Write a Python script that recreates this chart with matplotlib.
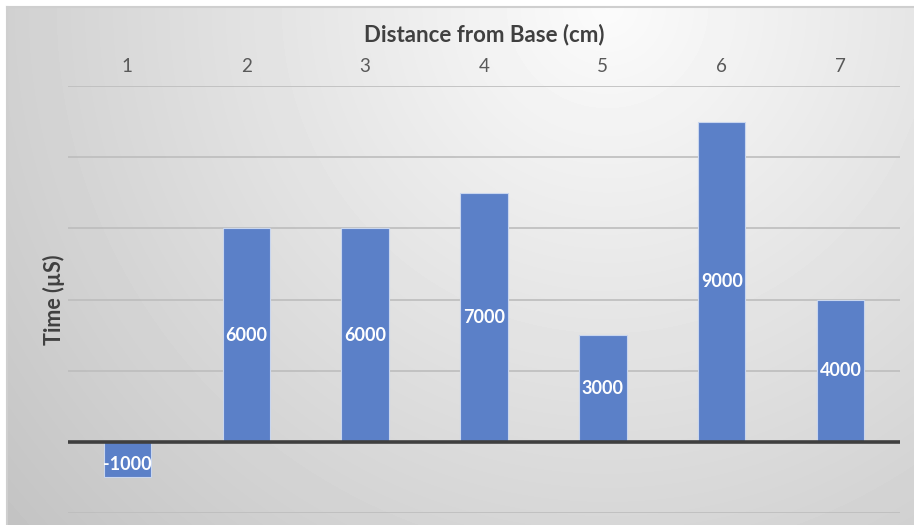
import matplotlib.pyplot as plt
import numpy as np

plt.rcParams['font.family'] = ['Lato', 'DejaVu Sans']

distance = [1, 2, 3, 4, 5, 6, 7]
times = [-1000, 6000, 6000, 7000, 3000, 9000, 4000]
tick_labels = ['1', '2', '3', '4', '5', '6', '7']

W, H = 914, 525
fig = plt.figure(figsize=(W / 100, H / 100), dpi=100)
fig.patch.set_facecolor('white')

# radial gray background of the chart area
bg = fig.add_axes([7 / W, 0, (W - 7) / W, (H - 7) / H])
yy, xx = np.mgrid[0:H - 7, 0:W - 7]
r = np.sqrt((xx - 600) ** 2 + (yy - 0) ** 2) / 720.0
shade = np.clip(0.985 - 0.2 * r, 0.76, 1.0)
bg.imshow(shade, cmap='gray', vmin=0, vmax=1, aspect='auto',
          extent=[0, 1, 0, 1], origin='upper')
bg.set_xticks([])
bg.set_yticks([])
for s in bg.spines.values():
    s.set_color('#cfcfcf')
    s.set_linewidth(1.5)
bg.spines['right'].set_visible(False)
bg.spines['bottom'].set_visible(False)

ax = fig.add_axes([68 / W, 12 / H, 832 / W, 427 / H])
ax.set_facecolor('none')
ax.set_xlim(0.5, 7.5)
ax.set_ylim(-2000, 10000)

for g in range(-2000, 10001, 2000):
    if g != 0:
        ax.axhline(g, color='#bdbdbd', lw=1.2, zorder=1)
ax.axhline(0, color='#3f3f3f', lw=2.6, zorder=3)

bars = ax.bar(distance, times, width=0.4, color='#5b80c8',
              edgecolor='#c9d6ee', linewidth=0.8, zorder=2)

for x, v in zip(distance, times):
    ax.text(x, v / 2 - (150 if v < 0 else 0), str(v), ha='center', va='center',
            color='white', fontsize=13, fontweight='bold', zorder=4)

ax.set_yticks([])
ax.xaxis.tick_top()
ax.set_xticks(distance)
ax.set_xticklabels(tick_labels, fontsize=13.5, color='#595959')
ax.tick_params(axis='x', length=0, pad=8)
ax.xaxis.set_label_position('top')
ax.set_xlabel('Distance from Base (cm)', fontsize=16, fontweight='bold',
              color='#404040', labelpad=12)
ax.set_ylabel('Time (µS)', fontsize=15.5, fontweight='bold', color='#404040',
              labelpad=2)
for s in ax.spines.values():
    s.set_visible(False)

fig.savefig('out.png', dpi=100)
